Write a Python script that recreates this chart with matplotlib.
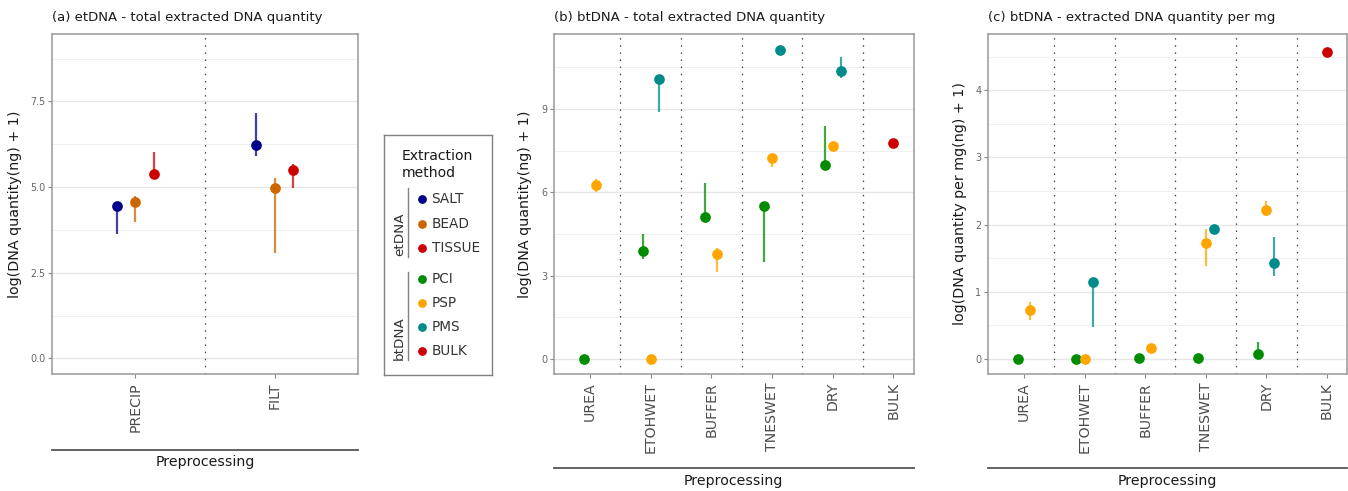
import numpy as np
import matplotlib
matplotlib.use("Agg")
import matplotlib.pyplot as plt
from matplotlib.lines import Line2D

nan = np.nan

# etDNA panel
et_prep = ["PRECIP", "FILT"]
et_methods = ["SALT", "BEAD", "TISSUE"]
et_mid = [[4.45, 6.22], [4.57, 4.98], [5.37, 5.50]]
et_lo = [[3.62, 5.90], [3.99, 3.09], [5.37, 4.97]]
et_hi = [[4.45, 7.15], [4.73, 5.27], [6.03, 5.68]]

# btDNA panels
bt_prep = ["UREA", "ETOHWET", "BUFFER", "TNESWET", "DRY", "BULK"]
bt_methods = ["PCI", "PSP", "PMS", "BULK"]

tot_mid = [[0.0, 3.89, 5.11, 5.52, 6.99, nan],
           [6.26, 0.0, 3.76, 7.22, 7.66, nan],
           [nan, 10.06, nan, 11.12, 10.36, nan],
           [nan, nan, nan, nan, nan, 7.78]]
tot_lo = [[0.0, 3.58, 5.11, 3.50, 6.99, nan],
          [5.99, 0.0, 3.14, 6.90, 7.66, nan],
          [nan, 8.90, nan, 11.12, 10.12, nan],
          [nan, nan, nan, nan, nan, 7.78]]
tot_hi = [[0.0, 4.49, 6.32, 5.52, 8.38, nan],
          [6.47, 0.0, 3.98, 7.38, 7.75, nan],
          [nan, 10.06, nan, 11.12, 10.87, nan],
          [nan, nan, nan, nan, nan, 7.78]]

mg_mid = [[0.0, 0.0, 0.01, 0.015, 0.075, nan],
          [0.72, 0.0, 0.155, 1.72, 2.21, nan],
          [nan, 1.145, nan, 1.94, 1.42, nan],
          [nan, nan, nan, nan, nan, 4.57]]
mg_lo = [[0.0, 0.0, 0.01, 0.015, 0.075, nan],
         [0.58, 0.0, 0.155, 1.38, 2.12, nan],
         [nan, 0.47, nan, 1.94, 1.24, nan],
         [nan, nan, nan, nan, nan, 4.50]]
mg_hi = [[0.0, 0.0, 0.01, 0.015, 0.25, nan],
         [0.84, 0.0, 0.155, 1.93, 2.35, nan],
         [nan, 1.145, nan, 1.94, 1.82, nan],
         [nan, nan, nan, nan, nan, 4.57]]

colours = {"SALT": "#00008B", "BEAD": "#CD6600", "TISSUE": "#CD0000",
           "PCI": "#008B00", "PSP": "#FFA500", "PMS": "#008B8B", "BULK": "#CD0000"}

W, H = 1348, 491
fig = plt.figure(figsize=(W / 100, H / 100), dpi=100)


def px_axes(left, top, right, bottom):
    return fig.add_axes([left / W, 1 - bottom / H, (right - left) / W, (bottom - top) / H])


def draw_panel(ax, box, cats, methods, mid, lo, hi, xlim, ylim, yticks, yticklabels,
               yminor, title, ylabel, ylabel_px, rule_px, xlab_px):
    left, top, right, bottom = box
    mid, lo, hi = np.array(mid), np.array(lo), np.array(hi)
    dodge = 0.4
    for j in range(len(cats)):
        present = [k for k in range(len(methods)) if not np.isnan(mid[k, j])]
        n = len(present)
        for rank, k in enumerate(present):
            x = j + 1 + (rank - (n - 1) / 2) * dodge / n
            c = colours[methods[k]]
            ax.vlines(x, lo[k, j], hi[k, j], color=c, lw=1.6, alpha=0.75, zorder=3)
            ax.plot(x, mid[k, j], "o", ms=7.7, color=c, mec="none", zorder=4)

    for j in range(len(cats) - 1):
        ax.axvline(j + 1.5, color="#444444", lw=0.9, ls=(0, (1.2, 4.5)), zorder=2)

    ax.set_xlim(*xlim)
    ax.set_ylim(*ylim)
    ax.set_xticks(range(1, len(cats) + 1))
    ax.set_xticklabels(cats, rotation=90, fontsize=10.2, color="#4D4D4D")
    ax.set_yticks(yticks)
    ax.set_yticklabels(yticklabels, fontsize=6.9, color="#666666")
    ax.set_yticks(yminor, minor=True)
    ax.tick_params(axis="both", which="major", length=3.2, width=0.8, color="#888888")
    ax.tick_params(axis="x", pad=3)
    ax.tick_params(axis="y", pad=1.5)
    ax.tick_params(which="minor", length=0)
    ax.grid(axis="y", which="major", color="#E6E6E6", lw=1.0, zorder=0)
    ax.grid(axis="y", which="minor", color="#F0F0F0", lw=0.7, zorder=0)
    ax.set_axisbelow(True)
    for s in ax.spines.values():
        s.set_color("#999999")
        s.set_linewidth(1.1)

    h = bottom - top
    ax.text(0, 1 + (top - 17) / h, title, transform=ax.transAxes,
            ha="left", va="center", fontsize=9.5, color="#1A1A1A")
    fig.text(ylabel_px / W, 1 - (top + bottom) / 2 / H, ylabel, rotation=90,
             ha="center", va="center", fontsize=10.3, color="#1A1A1A")
    ax.add_line(Line2D([0, 1], [(bottom - rule_px) / h] * 2, transform=ax.transAxes,
                       color="#555555", lw=1.3, clip_on=False))
    ax.text(0.5, (bottom - xlab_px) / h, "Preprocessing", transform=ax.transAxes,
            ha="center", va="center", fontsize=10.2, color="#1A1A1A")


box_a = (52, 34, 358, 373.5)
box_b = (554, 34, 913.5, 373.5)
box_c = (988, 34, 1347, 373.5)
ax_a = px_axes(*box_a)
ax_b = px_axes(*box_b)
ax_c = px_axes(*box_c)

draw_panel(ax_a, box_a, et_prep, et_methods, et_mid, et_lo, et_hi,
           (0.4, 2.6), (-0.44, 9.47), [0, 2.5, 5, 7.5], ["0.0", "2.5", "5.0", "7.5"],
           [1.25, 3.75, 6.25, 8.75], "(a) etDNA - total extracted DNA quantity",
           "log(DNA quantity(ng) + 1)", 15, 449.5, 462)
draw_panel(ax_b, box_b, bt_prep, bt_methods, tot_mid, tot_lo, tot_hi,
           (0.407, 6.33), (-0.52, 11.69), [0, 3, 6, 9], ["0", "3", "6", "9"],
           [1.5, 4.5, 7.5, 10.5], "(b) btDNA - total extracted DNA quantity",
           "log(DNA quantity(ng) + 1)", 525, 468, 481)
draw_panel(ax_c, box_c, bt_prep, bt_methods, mg_mid, mg_lo, mg_hi,
           (0.407, 6.33), (-0.22, 4.84), [0, 1, 2, 3, 4], ["0", "1", "2", "3", "4"],
           [0.5, 1.5, 2.5, 3.5, 4.5], "(c) btDNA - extracted DNA quantity per mg",
           "log(DNA quantity per mg(ng) + 1)", 960, 468, 481)

# legend drawn in its own pixel-scaled axes
lax = px_axes(384, 135, 492, 375)
lax.set_xlim(0, 108)
lax.set_ylim(240, 0)
lax.set_xticks([])
lax.set_yticks([])
for s in lax.spines.values():
    s.set_color("#808080")
    s.set_linewidth(1.0)
lax.text(18, 21, "Extraction", fontsize=10.1, ha="left", va="center", color="#1A1A1A")
lax.text(18, 38, "method", fontsize=10.1, ha="left", va="center", color="#1A1A1A")

leg_rows = [("SALT", 64.3), ("BEAD", 88.7), ("TISSUE", 113.0),
            ("PCI", 144.0), ("PSP", 167.7), ("PMS", 192.3), ("BULK", 215.7)]
for name, y in leg_rows:
    lax.plot(37.7, y, "o", ms=6.3, color=colours[name], mec="none")
    lax.text(47.5, y, name, fontsize=9.8, ha="left", va="center", color="#333333")

for label, y0, y1 in [("etDNA", 53, 121.5), ("btDNA", 136.7, 225)]:
    lax.plot([23.7, 23.7], [y0, y1], color="#808080", lw=1.0)
    lax.text(15.3, y1, label, rotation=90, fontsize=9.7, ha="center", va="bottom",
             color="#333333")

fig.savefig("out.png", dpi=100)
